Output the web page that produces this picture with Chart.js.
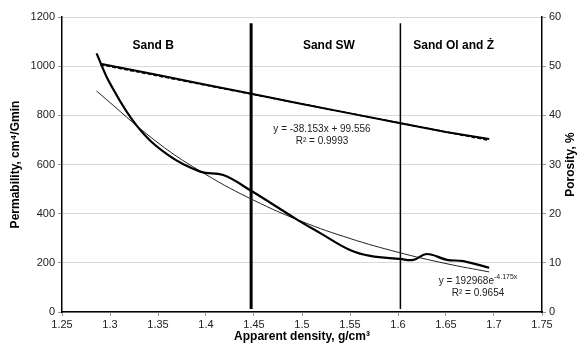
<!DOCTYPE html>
<html>
<head>
<meta charset="utf-8">
<script src="https://cdn.jsdelivr.net/npm/chart.js@4"></script>
<style>
  html, body { margin: 0; padding: 0; background: #fff; }
  #wrap { width: 581px; height: 351px; }
</style>
</head>
<body>
<div id="wrap"><canvas id="chartCanvas" width="581" height="351"></canvas></div>
<script>
// permeability curve (left axis)
const permDensity = [1.286, 1.30, 1.328, 1.36, 1.394, 1.418, 1.447, 1.494, 1.519, 1.55, 1.571, 1.602, 1.616, 1.63, 1.651, 1.668, 1.695];
const permValues  = [1052, 930, 757, 640, 571, 557, 493, 378, 321, 252, 228, 216, 212, 236, 212, 207, 180];

// exponential trend
const permTrendDensity = [1.286, 1.35, 1.40, 1.45, 1.50, 1.55, 1.60, 1.65, 1.695];
const permTrendValues  = [899, 688, 559, 454, 368, 299, 243, 197, 163];

// porosity (right axis) and its linear trend
const porDensity = [1.29, 1.35, 1.40, 1.45, 1.50, 1.55, 1.60, 1.65, 1.695];
const porValues  = [50.5, 48.2, 46.2, 44.3, 42.3, 40.4, 38.5, 36.6, 35.2];
const porTrendDensity = [1.29, 1.695];
const porTrendValues  = [50.3, 34.9];

// sand group boundaries
const boundaries = [1.447, 1.6025];
const boundaryRange = [12, 1175];

const zones = [
  { label: 'Sand B', x: 1.345 },
  { label: 'Sand SW', x: 1.528 },
  { label: 'Sand Ol and Ż', x: 1.658 }
];

function pts(xs, ys) {
  return xs.map((x, i) => ({ x: x, y: ys[i] }));
}

const FONT = '"Liberation Sans", Arial, sans-serif';

// labels drawn over the plot
const textPlugin = {
  id: 'texts',
  afterDatasetsDraw(chart) {
    const ctx = chart.ctx;
    const xs = chart.scales.x;
    const area = chart.chartArea;
    ctx.save();
    ctx.fillStyle = '#000';
    ctx.textAlign = 'center';
    ctx.textBaseline = 'middle';
    ctx.font = 'bold 12px ' + FONT;
    zones.forEach(z => ctx.fillText(z.label, xs.getPixelForValue(z.x), area.top + 29));

    ctx.font = '10px ' + FONT;
    ctx.fillStyle = '#222';
    ctx.fillText('y = -38.153x + 99.556', 322, 129);
    ctx.fillText('R² = 0.9993', 322, 141);

    // exponential equation with superscript
    const base = 'y = 192968e';
    const sup = '-4.175x';
    ctx.font = '10px ' + FONT;
    const w1 = ctx.measureText(base).width;
    ctx.font = '7px ' + FONT;
    const w2 = ctx.measureText(sup).width;
    let sx = 478 - (w1 + w2) / 2;
    ctx.textAlign = 'left';
    ctx.font = '10px ' + FONT;
    ctx.fillText(base, sx, 281);
    ctx.font = '7px ' + FONT;
    ctx.fillText(sup, sx + w1, 277);
    ctx.textAlign = 'center';
    ctx.font = '10px ' + FONT;
    ctx.fillText('R² = 0.9654', 478, 293);

    // axis titles
    ctx.fillStyle = '#000';
    ctx.font = 'bold 12px ' + FONT;
    ctx.fillText('Apparent density, g/cm³', (area.left + area.right) / 2, 337);
    ctx.save();
    ctx.translate(16, (area.top + area.bottom) / 2);
    ctx.rotate(-Math.PI / 2);
    ctx.fillText('Permability, cm⁴/Gmin', 0, 0);
    ctx.restore();
    ctx.save();
    ctx.translate(571, (area.top + area.bottom) / 2);
    ctx.rotate(-Math.PI / 2);
    ctx.fillText('Porosity, %', 0, 0);
    ctx.restore();
    ctx.restore();
  }
};

const datasets = [
  {
    data: pts(permDensity, permValues), yAxisID: 'y',
    borderColor: '#000', borderWidth: 2.2, tension: 0.4, pointRadius: 0
  },
  {
    data: pts(permTrendDensity, permTrendValues), yAxisID: 'y',
    borderColor: '#222', borderWidth: 1, tension: 0.4, pointRadius: 0
  },
  {
    data: pts(porDensity, porValues), yAxisID: 'y2',
    borderColor: '#000', borderWidth: 2, tension: 0, pointRadius: 0
  },
  {
    data: pts(porTrendDensity, porTrendValues), yAxisID: 'y2',
    borderColor: '#000', borderWidth: 1.5, borderDash: [4, 2], pointRadius: 0
  },
  {
    data: pts([boundaries[0], boundaries[0]], boundaryRange), yAxisID: 'y',
    borderColor: '#000', borderWidth: 3, pointRadius: 0
  },
  {
    data: pts([boundaries[1], boundaries[1]], boundaryRange), yAxisID: 'y',
    borderColor: '#000', borderWidth: 1.5, pointRadius: 0
  }
];

const tickFont = { family: FONT, size: 11 };

new Chart(document.getElementById('chartCanvas'), {
  type: 'scatter',
  data: { datasets: datasets.map(d => Object.assign({ showLine: true, fill: false }, d)) },
  plugins: [textPlugin],
  options: {
    responsive: false,
    animation: false,
    layout: { padding: { top: 17, left: 0, right: 0, bottom: 0 } },
    plugins: { legend: { display: false }, tooltip: { enabled: false } },
    scales: {
      x: {
        type: 'linear', min: 1.25, max: 1.75,
        ticks: { stepSize: 0.05, color: '#222', font: tickFont, padding: 2,
                 maxRotation: 0, callback: v => String(+v.toFixed(2)) },
        grid: { drawOnChartArea: false, tickLength: 4, tickColor: '#999' },
        border: { color: '#000', width: 1.5 },
        afterFit: s => { s.height = 39; }
      },
      y: {
        position: 'left', min: 0, max: 1200,
        ticks: { stepSize: 200, color: '#222', font: tickFont, padding: 3, callback: v => String(v) },
        grid: { color: '#d9d9d9', lineWidth: 1, tickLength: 4, tickColor: '#999' },
        border: { color: '#000', width: 1.5 },
        afterFit: s => { s.width = 62; }
      },
      y2: {
        position: 'right', min: 0, max: 60,
        ticks: { stepSize: 10, color: '#222', font: tickFont, padding: 3, callback: v => String(v) },
        grid: { drawOnChartArea: false, tickLength: 4, tickColor: '#999' },
        border: { color: '#000', width: 1.5 },
        afterFit: s => { s.width = 39; }
      }
    }
  }
});
</script>
</body>
</html>
